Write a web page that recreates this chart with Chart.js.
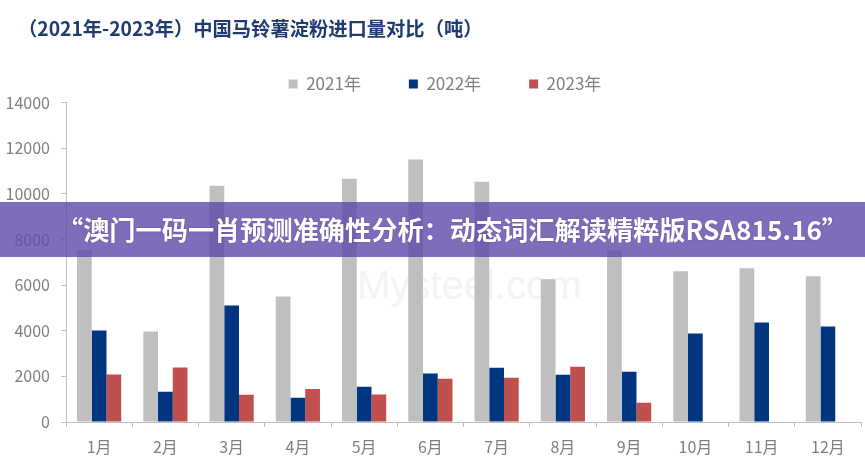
<!DOCTYPE html>
<html>
<head>
<meta charset="utf-8">
<script src="https://cdn.jsdelivr.net/npm/chart.js@4/dist/chart.umd.min.js"></script>
<style>
  html, body { margin: 0; padding: 0; background: #ffffff; }
  #wrap { position: relative; width: 865px; height: 461px; overflow: hidden; background: #ffffff; }
  #title { position: absolute; left: 18px; top: 16px; font-family: "Noto Sans CJK SC", sans-serif; font-size: 19.3px; font-weight: 700; line-height: 24px; color: #1f3b72; white-space: nowrap; z-index: 3; }
  #wm { position: absolute; left: 357px; top: 262px; font-family: "Liberation Sans", Arial, sans-serif; font-size: 40px; line-height: 46px; color: #f3f3f6; white-space: nowrap; z-index: 0; }
  #c { position: absolute; left: 0; top: 0; z-index: 1; }
  #banner { position: absolute; left: 0; top: 202px; width: 865px; height: 55px; background: rgba(95,72,170,0.80); z-index: 4; }
  #banner span { position: absolute; left: 57px; top: 0; line-height: 55px; font-family: "Noto Sans CJK SC", sans-serif; font-weight: 700; font-size: 26.2px; color: #ffffff; white-space: nowrap; text-shadow: 0 0 2px rgba(40,20,80,0.35); }
</style>
</head>
<body>
<div id="wrap">
  <div id="title">（2021年-2023年）中国马铃薯淀粉进口量对比（吨）</div>
  <div id="wm">Mysteel.com</div>
  <canvas id="c" width="865" height="461"></canvas>
  <div id="banner"><span>“澳门一码一肖预测准确性分析：动态词汇解读精粹版RSA815.16”</span></div>
</div>
<script>
const categories = ['1月','2月','3月','4月','5月','6月','7月','8月','9月','10月','11月','12月'];
const seriesNames = ['2021年','2022年','2023年'];
const series2021 = [7540, 3970, 10350, 5500, 10660, 11500, 10530, 6260, 7530, 6610, 6740, 6390];
const series2022 = [4010, 1330, 5110, 1060, 1540, 2120, 2380, 2070, 2200, 3880, 4360, 4190];
const series2023 = [2080, 2390, 1190, 1450, 1200, 1900, 1940, 2420, 840, null, null, null];
const yTickValues = [0, 2000, 4000, 6000, 8000, 10000, 12000, 14000];

const FONT = '"Noto Sans CJK SC", "Noto Sans", sans-serif';
const LABEL_COLOR = '#7f7f7f';
const AXIS_COLOR = '#bfbfbf';

// shift the legend box a little to the right (reference legend is not centred on the canvas)
const legendShift = {
  id: 'legendShift',
  afterLayout(chart) {
    if (chart.legend) { chart.legend.left += 14.5; chart.legend.right += 14.5; }
  }
};

new Chart(document.getElementById('c'), {
  type: 'bar',
  data: {
    labels: categories,
    datasets: [
      { label: seriesNames[0], data: series2021, backgroundColor: '#bfbfbf' },
      { label: seriesNames[1], data: series2022, backgroundColor: '#003580' },
      { label: seriesNames[2], data: series2023, backgroundColor: '#c0504d' }
    ]
  },
  plugins: [legendShift],
  options: {
    responsive: false,
    devicePixelRatio: 1,
    animation: false,
    datasets: { bar: { barPercentage: 1, categoryPercentage: 0.667 } },
    layout: { padding: { top: 27.5, left: 0, right: 4, bottom: 0 } },
    plugins: {
      title: { display: false },
      tooltip: { enabled: false },
      legend: {
        display: true,
        position: 'top',
        align: 'center',
        maxHeight: 77,
        labels: {
          boxWidth: 9,
          boxHeight: 9,
          padding: 48,
          color: LABEL_COLOR,
          font: { family: FONT, size: 17 }
        }
      }
    },
    scales: {
      x: {
        grid: { display: true, offset: true, drawOnChartArea: false, drawTicks: true, tickLength: 5, color: AXIS_COLOR, lineWidth: 1 },
        border: { display: true, color: AXIS_COLOR, width: 1 },
        ticks: { color: LABEL_COLOR, font: { family: FONT, size: 16 }, padding: 10, maxRotation: 0, autoSkip: false },
        afterFit: function (scale) { scale.height = 39; }
      },
      y: {
        min: 0,
        max: 14000,
        afterBuildTicks: function (scale) { scale.ticks = yTickValues.map(v => ({ value: v })); },
        grid: { display: true, drawOnChartArea: false, drawTicks: true, tickLength: 5, color: AXIS_COLOR, lineWidth: 1 },
        border: { display: true, color: AXIS_COLOR, width: 1 },
        ticks: { color: LABEL_COLOR, font: { family: FONT, size: 16 }, padding: 11, callback: function (v) { return String(v); } },
        afterFit: function (scale) { scale.width = 66; }
      }
    }
  }
});
</script>
</body>
</html>
